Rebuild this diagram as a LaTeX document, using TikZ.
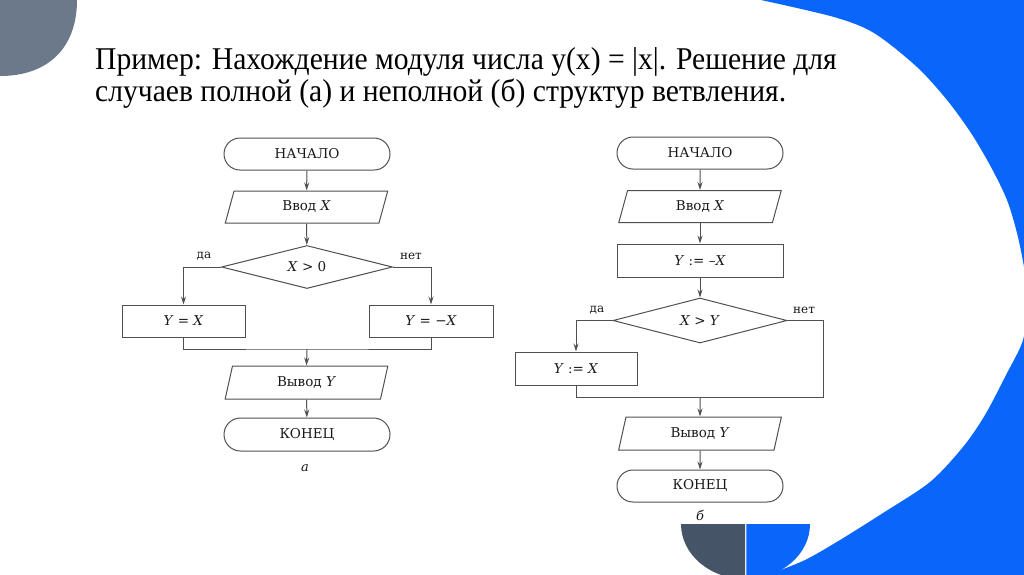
\documentclass[tikz,border=0pt]{standalone}
\usepackage{fontspec}
\setmainfont{DejaVu Serif}
\newfontfamily\titlefont{Liberation Serif}
\newfontfamily\fcfont{DejaVu Serif}
\usetikzlibrary{shapes.geometric,shapes.misc,arrows.meta,calc}
\definecolor{slideblue}{RGB}{10,102,250}
\definecolor{topgray}{RGB}{107,121,138}
\definecolor{botgray}{RGB}{70,84,104}
\definecolor{fcline}{RGB}{80,80,80}
\definecolor{fctext}{RGB}{25,25,25}
\begin{document}
\begin{tikzpicture}[x=1pt,y=-1pt,
  every node/.style={font=\fcfont\fontsize{13.5}{15}\selectfont, text=fctext},
  term/.style={draw=fcline, line width=1pt, rounded rectangle, minimum width=166pt, minimum height=32pt, inner sep=0pt},
  proc/.style={draw=fcline, line width=1pt, rectangle, minimum height=32pt, inner sep=0pt},
  io/.style={draw=fcline, line width=1pt, trapezium, trapezium left angle=76, trapezium right angle=104, trapezium stretches=true, minimum width=163pt, minimum height=32pt, inner sep=0pt},
  dec/.style={draw=fcline, line width=1pt, diamond, shape aspect=4, minimum width=171pt, minimum height=43pt, inner sep=0pt},
  lnk/.style={draw=fcline, line width=1pt},
  arr/.style={lnk, -{Stealth[length=8pt,width=5pt]}},
  lbl/.style={font=\fcfont\fontsize{12}{13}\selectfont, inner sep=0pt},
  figcap/.style={font=\fcfont\itshape\fontsize{13}{14}\selectfont},
  ttl/.style={anchor=base west, inner sep=0pt, font=\titlefont\fontsize{29.6}{30}\selectfont, text=black}
]
\useasboundingbox (0,0) rectangle (1024,574);
\begin{scope}
\clip (0,0) rectangle (1024,574);
\fill[white] (0,0) rectangle (1024,574);
% top-left gray shape
\fill[topgray] (0,0) -- (77,0) .. controls (77,48) and (48,76) .. (0,76) -- cycle;
% big blue region
\fill[slideblue] plot[smooth] coordinates {(761,0) (834,17) (874,33) (917,67) (947,100) (971,133) (991,167) (1007,200) (1017,233) (1024,267) (1028,300) (1023,340) (1006,375) (985,415) (963,447) (930,482) (883,513) (840,540) (805,560) (770,574)} -- (770,600) -- (1100,600) -- (1100,-20) -- (761,-20) -- cycle;
% bottom half disc
\begin{scope}
\clip (600,524) rectangle (745.2,600);
\fill[botgray] (745.5,524) ellipse [x radius=64.5pt, y radius=55pt];
\end{scope}
\begin{scope}
\clip (746.3,524) rectangle (900,600);
\fill[slideblue] (745.5,524) ellipse [x radius=64.5pt, y radius=55pt];
\end{scope}
\end{scope}

% title
\node[ttl] (t1) at (95,69.5) {\scalebox{1}[1.07]{Пример: Нахождение модуля числа y(x) = |x|. Решение для}};
\node[ttl] (t2) at (95,101) {\scalebox{1}[1.07]{случаев полной (а) и неполной (б) структур ветвления.}};

% flowchart a
\node[term] (a1) at (307,154) {НАЧАЛО};
\node[io] (a2) at (306.5,207) {Ввод \textit{X}};
\node[dec] (a3) at (307,267) {\textit{X} > 0};
\node[proc, minimum width=123pt] (a4) at (183.5,321) {\textit{Y} = \textit{X}};
\node[proc, minimum width=124pt] (a5) at (431,321) {\textit{Y} = −\textit{X}};
\coordinate (aj) at (307,349);
\node[io, minimum height=33pt] (a6) at (306.5,382.5) {Вывод \textit{Y}};
\node[term, minimum height=33pt] (a7) at (307,434.5) {КОНЕЦ};
\node[lbl] (ada) at (204,256) {да};
\node[lbl] (anet) at (411,256) {нет};
\node[figcap] (acap) at (305,468) {а};

\draw[arr] (a1) -- (a2);
\draw[arr] (a2) -- (a3);
\draw[arr] (a3.west) -| (a4.north);
\draw[arr] (a3.east) -| (a5.north);
\draw[lnk] (a4.south) |- (aj) -| (a5.south);
\draw[arr] (aj) -- (a6.north);
\draw[arr] (a6) -- (a7);

% flowchart b
\node[term] (b1) at (700,153) {НАЧАЛО};
\node[io] (b2) at (700,206.5) {Ввод \textit{X}};
\node[proc, minimum width=166pt, minimum height=33pt] (b3) at (700,260.5) {\textit{Y} := –\textit{X}};
\node[dec, minimum width=174pt, minimum height=45pt] (b4) at (700,320.5) {\textit{X} > \textit{Y}};
\node[proc, minimum width=122pt, minimum height=33pt] (b5) at (576,368.5) {\textit{Y} := \textit{X}};
\coordinate (bj) at (700,397.5);
\coordinate (bR) at (823,397.5);
\node[io, minimum height=33pt] (b6) at (700,433.5) {Вывод \textit{Y}};
\node[term, minimum height=32pt] (b7) at (700,486) {КОНЕЦ};
\node[lbl] (bda) at (597,310) {да};
\node[lbl] (bnet) at (804,310) {нет};
\node[figcap] (bcap) at (700,515) {б};

\draw[arr] (b1) -- (b2);
\draw[arr] (b2) -- (b3);
\draw[arr] (b3) -- (b4);
\draw[arr] (b4.west) -| (b5.north);
\draw[lnk] (b4.east) -| (bR);
\draw[lnk] (b5.south) |- (bR);
\draw[arr] (bj) -- (b6.north);
\draw[arr] (b6) -- (b7);
\end{tikzpicture}
\end{document}
